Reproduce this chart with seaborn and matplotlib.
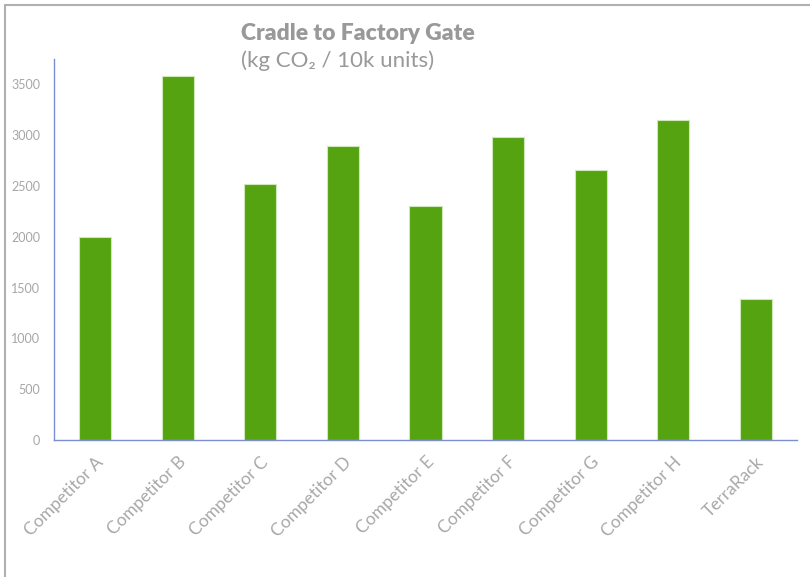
import numpy as np
import pandas as pd
import matplotlib
matplotlib.use("Agg")
import matplotlib.pyplot as plt
import seaborn as sns
from matplotlib.lines import Line2D

categories = ["Competitor A", "Competitor B", "Competitor C", "Competitor D",
              "Competitor E", "Competitor F", "Competitor G", "Competitor H",
              "TerraRack"]
emissions = [2000, 3580, 2520, 2890, 2300, 2980, 2660, 3150, 1390]
yticks = [0, 500, 1000, 1500, 2000, 2500, 3000, 3500]

df = pd.DataFrame({"name": categories, "co2": emissions})

sns.set_style("white")
plt.rcParams["font.family"] = ["Lato", "DejaVu Sans"]

fig = plt.figure(figsize=(8.1, 5.77), dpi=100)
ax = fig.add_axes([54 / 810, 1 - 440 / 577, (797 - 54) / 810, (440 - 59) / 577])

sns.barplot(data=df, x="name", y="co2", color="#56a311", width=0.39,
            edgecolor="#cfe8bb", linewidth=0.8, saturation=1, ax=ax)

ax.set_xlim(-0.5, len(categories) - 0.5)
ax.set_ylim(0, 3750)
ax.set_yticks(yticks)
ax.set_yticklabels([str(v) for v in yticks], color="#a6a6a6", fontsize=9)
ax.tick_params(axis="y", length=4, color="#e0e0e0", pad=6)

ax.set_xticks(range(len(categories)))
ax.set_xticklabels(categories, rotation=45, ha="right", rotation_mode="anchor",
                   color="#a8a8a8", fontsize=12.5)
ax.tick_params(axis="x", which="major", length=0, pad=10)
ax.set_xticks(np.arange(0.5, len(categories) - 0.5, 1), minor=True)
ax.tick_params(axis="x", which="minor", length=6, color="#e4e4e4")

ax.set_xlabel("")
ax.set_ylabel("")
sns.despine(ax=ax)
for side in ["left", "bottom"]:
    ax.spines[side].set_color("#7b8ed0")
    ax.spines[side].set_linewidth(1)

fig.text(241 / 810, 1 - 33 / 577, "Cradle to Factory Gate",
         fontsize=16.5, fontweight="heavy", color="#999999", va="center")
fig.text(241 / 810, 1 - 61 / 577, "(kg CO\u2082 / 10k units)",
         fontsize=16, color="#999999", va="center")

# frame lines along the top and left edges
fig.add_artist(Line2D([5 / 810, 1], [1 - 5 / 577, 1 - 5 / 577],
                      transform=fig.transFigure, color="#b0b0b0", lw=1.5))
fig.add_artist(Line2D([5 / 810, 5 / 810], [0, 1 - 5 / 577],
                      transform=fig.transFigure, color="#b0b0b0", lw=1.5))

fig.savefig("out.png", dpi=100)
